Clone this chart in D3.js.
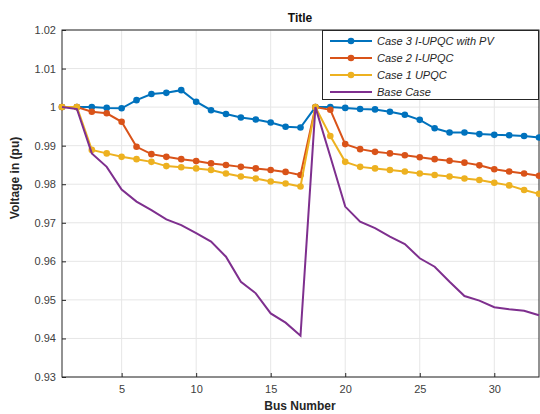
<!DOCTYPE html>
<html>
<head>
<meta charset="utf-8">
<script src="https://cdn.jsdelivr.net/npm/d3@7"></script>
<style>
  body { margin: 0; background: #fff; }
  svg { font-family: "Liberation Sans", Arial, sans-serif; }
</style>
</head>
<body>
<svg width="540" height="414"></svg>
<script>
// bus numbers 1..33
var buses = [1,2,3,4,5,6,7,8,9,10,11,12,13,14,15,16,17,18,19,20,21,22,23,24,25,26,27,28,29,30,31,32,33];

var case3 = [1.0000,1.0000,1.0000,0.9998,0.9997,1.0018,1.0034,1.0037,1.0044,1.0014,0.9992,0.9982,0.9973,0.9968,0.9960,0.9949,0.9947,
             1.0000,1.0000,0.9998,0.9995,0.9994,0.9988,0.9980,0.9967,0.9945,0.9934,0.9934,0.9930,0.9928,0.9927,0.9925,0.9921];
var case2 = [1.0000,1.0000,0.9988,0.9984,0.9962,0.9897,0.9878,0.9871,0.9865,0.9860,0.9854,0.9850,0.9845,0.9841,0.9837,0.9832,0.9824,
             1.0000,0.9993,0.9904,0.9891,0.9884,0.9880,0.9875,0.9870,0.9865,0.9861,0.9856,0.9849,0.9839,0.9833,0.9828,0.9822];
var case1 = [1.0000,1.0000,0.9889,0.9880,0.9871,0.9865,0.9858,0.9847,0.9844,0.9841,0.9837,0.9828,0.9820,0.9815,0.9807,0.9802,0.9794,
             1.0000,0.9925,0.9858,0.9845,0.9841,0.9837,0.9833,0.9828,0.9824,0.9820,0.9815,0.9811,0.9804,0.9797,0.9785,0.9775];
var baseCase = [1.0000,0.9995,0.9880,0.9845,0.9786,0.9755,0.9733,0.9709,0.9694,0.9673,0.9651,0.9612,0.9547,0.9517,0.9465,0.9441,0.9407,
                1.0000,0.9872,0.9742,0.9703,0.9686,0.9664,0.9645,0.9608,0.9586,0.9547,0.9510,0.9498,0.9481,0.9476,0.9472,0.9460];

var seriesNames = ["Case 3 I-UPQC with PV", "Case 2 I-UPQC", "Case 1 UPQC", "Base Case"];
var seriesColors = ["#0072BD", "#D95319", "#EDB120", "#7E2F8E"];
var seriesMarkers = [true, true, true, false];
var xTicks = [5, 10, 15, 20, 25, 30];
var yTicks = [0.93, 0.94, 0.95, 0.96, 0.97, 0.98, 0.99, 1.00, 1.01, 1.02];

var svg = d3.select("svg");
var pLeft = 62, pRight = 539, pTop = 30, pBottom = 377;

var x = d3.scaleLinear().domain([1, 33]).range([pLeft, pRight]);
var y = d3.scaleLinear().domain([0.93, 1.02]).range([pBottom, pTop]);

var series = [case3, case2, case1, baseCase].map(function(vals, i) {
  return {
    name: seriesNames[i], color: seriesColors[i], marker: seriesMarkers[i],
    values: buses.map(function(b, j) { return [b, vals[j]]; })
  };
});

// grid
var grid = svg.append("g");
grid.selectAll(".gx").data(xTicks).enter().append("line")
    .attr("x1", function(d) { return x(d); }).attr("x2", function(d) { return x(d); })
    .attr("y1", pTop).attr("y2", pBottom)
    .style("stroke", "#e6e6e6").style("stroke-width", 1);
grid.selectAll(".gy").data(yTicks).enter().append("line")
    .attr("y1", function(d) { return y(d); }).attr("y2", function(d) { return y(d); })
    .attr("x1", pLeft).attr("x2", pRight)
    .style("stroke", "#e6e6e6").style("stroke-width", 1);

// axes
var fmt = function(d) { return d3.format(".2f")(d).replace(/\.?0+$/, ""); };
var xAxis = svg.append("g")
    .attr("transform", "translate(0," + pBottom + ")")
    .call(d3.axisBottom(x).tickValues(xTicks).tickSizeInner(-4).tickSizeOuter(0).tickPadding(8));
var yAxis = svg.append("g")
    .attr("transform", "translate(" + pLeft + ",0)")
    .call(d3.axisLeft(y).tickValues(yTicks).tickFormat(fmt).tickSizeInner(-4).tickSizeOuter(0).tickPadding(6));
[xAxis, yAxis].forEach(function(a) {
  a.select(".domain").remove();
  a.selectAll("line").style("stroke", "#262626");
  a.selectAll("text").style("fill", "#404040").style("font-size", "11px");
});

// box
svg.append("rect")
    .attr("x", pLeft).attr("y", pTop)
    .attr("width", pRight - pLeft).attr("height", pBottom - pTop)
    .style("fill", "none").style("stroke", "#262626").style("stroke-width", 1);

// lines
var line = d3.line()
    .x(function(d) { return x(d[0]); })
    .y(function(d) { return y(d[1]); });

var sel = svg.selectAll(".series").data(series).enter().append("g");
sel.append("path")
    .attr("d", function(d) { return line(d.values); })
    .style("fill", "none")
    .style("stroke", function(d) { return d.color; })
    .style("stroke-width", 2);
sel.filter(function(d) { return d.marker; }).selectAll("circle")
    .data(function(d) { return d.values.map(function(v) { return {v: v, color: d.color}; }); })
    .enter().append("circle")
    .attr("cx", function(d) { return x(d.v[0]); })
    .attr("cy", function(d) { return y(d.v[1]); })
    .attr("r", 3.3)
    .style("fill", function(d) { return d.color; });

// legend
var lg = svg.append("g");
lg.append("rect")
    .attr("x", 322.5).attr("y", 30.5).attr("width", 216).attr("height", 69)
    .style("fill", "#fff").style("stroke", "#262626").style("stroke-width", 1);
var item = lg.selectAll(".item").data(series).enter().append("g")
    .attr("transform", function(d, i) { return "translate(0," + (41 + i * 17) + ")"; });
item.append("line")
    .attr("x1", 330).attr("x2", 372)
    .style("stroke", function(d) { return d.color; })
    .style("stroke-width", 2);
item.filter(function(d) { return d.marker; }).append("circle")
    .attr("cx", 351).attr("r", 3.3)
    .style("fill", function(d) { return d.color; });
item.append("text")
    .attr("x", 377).attr("dy", "0.35em")
    .style("font-size", "11px").style("font-style", "italic").style("fill", "#262626")
    .text(function(d) { return d.name; });

// title and labels
svg.append("text")
    .attr("x", 300).attr("y", 22)
    .attr("text-anchor", "middle")
    .style("font-size", "12px").style("font-weight", "bold").style("fill", "#111")
    .text("Title");
svg.append("text")
    .attr("x", 300).attr("y", 410)
    .attr("text-anchor", "middle")
    .style("font-size", "12px").style("font-weight", "bold").style("fill", "#262626")
    .text("Bus Number");
svg.append("text")
    .attr("transform", "translate(19,178) rotate(-90)")
    .attr("text-anchor", "middle")
    .style("font-size", "12px").style("font-weight", "bold").style("fill", "#262626")
    .text("Voltage in (pu)");
</script>
</body>
</html>
